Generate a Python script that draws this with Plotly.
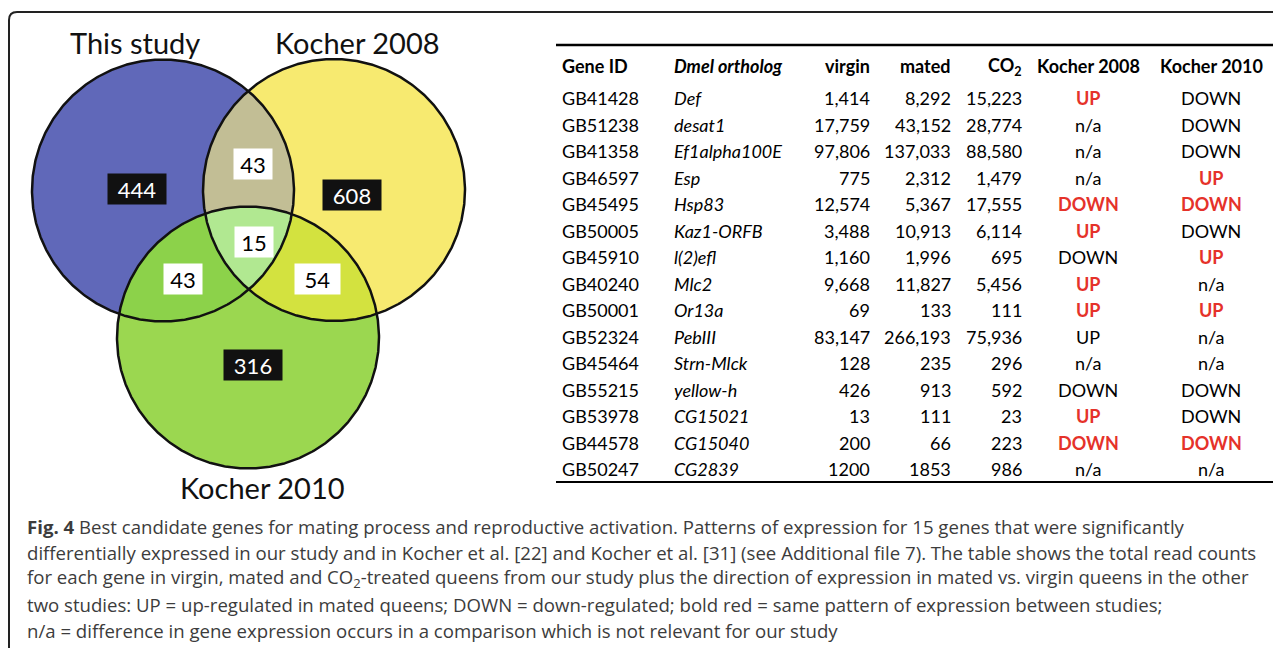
import numpy as np
import plotly.graph_objects as go

# ---------------- data ----------------
set_names = ["This study", "Kocher 2008", "Kocher 2010"]
# region counts: only A, A&B, only B, A&C, A&B&C, B&C, only C
region_counts = ["444", "43", "608", "43", "15", "54", "316"]
region_dark = [True, False, True, False, False, False, True]

gene_ids = ["GB41428", "GB51238", "GB41358", "GB46597", "GB45495", "GB50005", "GB45910",
            "GB40240", "GB50001", "GB52324", "GB45464", "GB55215", "GB53978", "GB44578", "GB50247"]
orthologs = ["Def", "desat1", "Ef1alpha100E", "Esp", "Hsp83", "Kaz1-ORFB", "l(2)efl",
             "Mlc2", "Or13a", "PebIII", "Strn-Mlck", "yellow-h", "CG15021", "CG15040", "CG2839"]
virgin = ["1,414", "17,759", "97,806", "775", "12,574", "3,488", "1,160",
          "9,668", "69", "83,147", "128", "426", "13", "200", "1200"]
mated = ["8,292", "43,152", "137,033", "2,312", "5,367", "10,913", "1,996",
         "11,827", "133", "266,193", "235", "913", "111", "66", "1853"]
co2 = ["15,223", "28,774", "88,580", "1,479", "17,555", "6,114", "695",
       "5,456", "111", "75,936", "296", "592", "23", "223", "986"]
kocher2008 = ["UP", "n/a", "n/a", "n/a", "DOWN", "UP", "DOWN",
              "UP", "UP", "UP", "n/a", "DOWN", "UP", "DOWN", "n/a"]
same2008 = [True, False, False, False, True, True, False,
            True, True, False, False, False, True, True, False]
kocher2010 = ["DOWN", "DOWN", "DOWN", "UP", "DOWN", "DOWN", "UP",
              "n/a", "UP", "n/a", "n/a", "DOWN", "DOWN", "DOWN", "n/a"]
same2010 = [False, False, False, True, True, False, True,
            False, True, False, False, False, False, True, False]
headers = ["Gene ID", "<i>Dmel ortholog</i>", "virgin", "mated", "CO<sub>2</sub>", "Kocher 2008", "Kocher 2010"]

caption_lines = [
    "<b>Fig. 4</b> Best candidate genes for mating process and reproductive activation. Patterns of expression for 15 genes that were significantly",
    "differentially expressed in our study and in Kocher et al. [22] and Kocher et al. [31] (see Additional file 7). The table shows the total read counts",
    "for each gene in virgin, mated and CO<sub>2</sub>-treated queens from our study plus the direction of expression in mated vs. virgin queens in the other",
    "two studies: UP = up-regulated in mated queens; DOWN = down-regulated; bold red = same pattern of expression between studies;",
    "n/a = difference in gene expression occurs in a comparison which is not relevant for our study",
]

# ---------------- layout constants ----------------
W, H = 1281, 648
OFF = 8  # page body margin offset
centers = [(163, 190.5), (334, 190), (248, 337.5)]
R = 131
base_colors = ["#6068b9", "#f7ea70", "#9bd750"]
pair_colors = {(0, 1): "#c2be95", (0, 2): "#8cd24a", (1, 2): "#d3e23f"}
triple_color = "#b1e891"
label_pos = [(137, 189), (253, 164), (352, 195), (183, 279), (254, 242), (317, 279), (253, 365)]
label_w = [56, 36, 56, 36, 36, 43, 56]
set_label_pos = [(135, 42), (357, 42), (262, 487)]

FONT = "Lato"
fig = go.Figure()

t = np.linspace(0, 2 * np.pi, 721)


def circle_pts(i):
    cx, cy = centers[i]
    return cx + R * np.cos(t), cy + R * np.sin(t)


def region(idx):
    pts = []
    for i in idx:
        x, y = circle_pts(i)
        ok = np.ones_like(x, dtype=bool)
        for j in idx:
            if j == i:
                continue
            cx, cy = centers[j]
            ok &= (x - cx) ** 2 + (y - cy) ** 2 <= R ** 2 + 1e-6
        pts += list(zip(x[ok], y[ok]))
    pts = np.array(pts)
    m = pts.mean(axis=0)
    ang = np.arctan2(pts[:, 1] - m[1], pts[:, 0] - m[0])
    pts = pts[np.argsort(ang)]
    return np.append(pts[:, 0], pts[0, 0]), np.append(pts[:, 1], pts[0, 1])


for i in range(3):
    x, y = circle_pts(i)
    fig.add_trace(go.Scatter(x=x, y=y, fill="toself", fillcolor=base_colors[i], mode="none",
                             hoverinfo="skip", showlegend=False))
for (a, b), c in pair_colors.items():
    x, y = region([a, b])
    fig.add_trace(go.Scatter(x=x, y=y, fill="toself", fillcolor=c, mode="none",
                             hoverinfo="skip", showlegend=False))
x, y = region([0, 1, 2])
fig.add_trace(go.Scatter(x=x, y=y, fill="toself", fillcolor=triple_color, mode="none",
                         hoverinfo="skip", showlegend=False))
for i in range(3):
    x, y = circle_pts(i)
    fig.add_trace(go.Scatter(x=x, y=y, mode="lines", line=dict(color="#111", width=2.5),
                             hoverinfo="skip", showlegend=False))

ann = []
for k, txt in enumerate(region_counts):
    dark = region_dark[k]
    ann.append(dict(x=label_pos[k][0], y=label_pos[k][1], text=txt, showarrow=False,
                    font=dict(family=FONT, size=22, color="white" if dark else "black"),
                    bgcolor="#111111" if dark else "white", width=label_w[k], height=28,
                    xanchor="center", yanchor="middle"))
for k, nm in enumerate(set_names):
    ann.append(dict(x=set_label_pos[k][0], y=set_label_pos[k][1], text=nm, showarrow=False,
                    font=dict(family=FONT, size=29, color="#111"), xanchor="center", yanchor="middle"))

# ---------------- table ----------------
col_x = [560, 672, 872, 953, 1024, 1088, 1211]
col_anchor = ["left", "left", "right", "right", "right", "center", "center"]
header_y = 66
row_y0, row_dy = 98, 26.5
TF = 18
for c, h in enumerate(headers):
    ann.append(dict(x=col_x[c], y=header_y, text="<b>" + h + "</b>", showarrow=False,
                    xanchor=col_anchor[c], yanchor="middle",
                    font=dict(family=FONT, size=TF, color="black")))
RED = "#e5322a"
for r in range(len(gene_ids)):
    yy = row_y0 + r * row_dy
    cells = [gene_ids[r], "<i>" + orthologs[r] + "</i>", virgin[r], mated[r], co2[r]]
    for c, v in enumerate(cells):
        ann.append(dict(x=col_x[c], y=yy, text=v, showarrow=False, xanchor=col_anchor[c],
                        yanchor="middle", font=dict(family=FONT, size=TF, color="black")))
    for c, (v, red) in zip([5, 6], [(kocher2008[r], same2008[r]), (kocher2010[r], same2010[r])]):
        ann.append(dict(x=col_x[c], y=yy, text=("<b>" + v + "</b>") if red else v, showarrow=False,
                        xanchor="center", yanchor="middle",
                        font=dict(family=FONT, size=TF, color=RED if red else "black")))

# ---------------- caption ----------------
cap_y0, cap_dy = 526, 26
for k, line in enumerate(caption_lines):
    ann.append(dict(x=25, y=cap_y0 + k * cap_dy, text=line, showarrow=False, xanchor="left",
                    yanchor="middle", font=dict(family="Open Sans", size=18.6, color="#3c3c3c")))

shapes = [
    dict(type="path", path="M 9 680 L 9 20 Q 9 12 17 12 L 1300 12", line=dict(color="#222", width=2)),
    dict(type="line", x0=556, x1=1275, y0=45, y1=45, line=dict(color="black", width=2.5)),
    dict(type="line", x0=556, x1=1275, y0=482, y1=482, line=dict(color="black", width=2)),
]

fig.update_layout(
    width=W, height=H, margin=dict(l=0, r=0, t=0, b=0),
    paper_bgcolor="white", plot_bgcolor="white",
    xaxis=dict(range=[OFF, W + OFF], visible=False, fixedrange=True),
    yaxis=dict(range=[H + OFF, OFF], visible=False, fixedrange=True),
    annotations=ann, shapes=shapes,
)
fig.write_html("out.html")
